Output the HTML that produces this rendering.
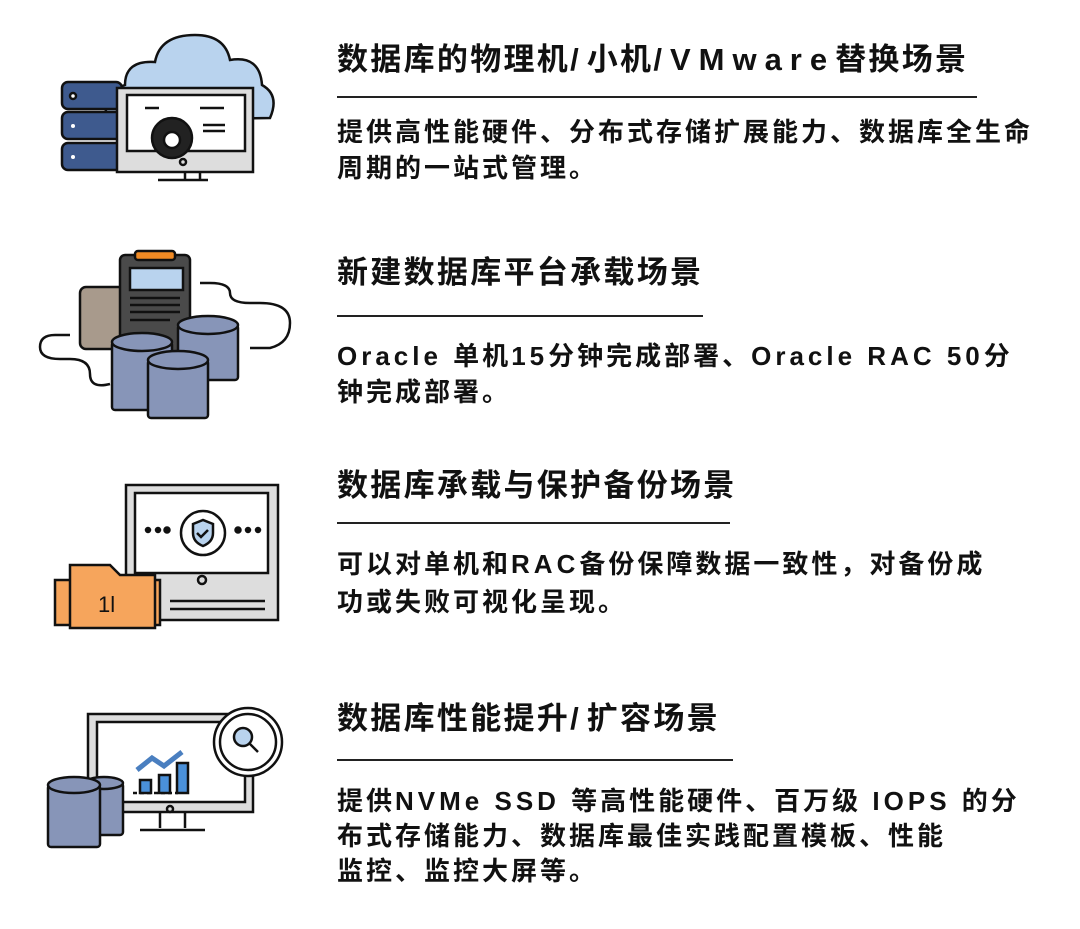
<!DOCTYPE html>
<html><head><meta charset="utf-8"><style>
body{margin:0;width:1080px;height:929px;background:#fff;position:relative;overflow:hidden;font-family:"Liberation Sans","Noto Sans CJK SC",sans-serif;color:#111;}
.t{position:absolute;left:337px;font-size:31px;font-weight:bold;letter-spacing:2.3px;white-space:nowrap;line-height:34px}
.b{position:absolute;left:337px;font-size:26px;font-weight:bold;letter-spacing:3px;line-height:35px;white-space:nowrap}
.t i{font-style:normal;letter-spacing:8px}
.b i{font-style:normal;letter-spacing:4px}
.l{position:absolute;left:337px;height:2px;background:#222}
svg{position:absolute;left:0;top:0}
</style></head><body>
<svg width="320" height="929" viewBox="0 0 320 929" stroke="#111" stroke-width="2.5" fill="none">
<path d="M110 120 Q95 95 125 85 Q125 60 155 62 Q160 35 195 35 Q225 35 230 60 Q260 55 262 85 Q280 95 270 118 Z" fill="#b9d3ee"/>
<rect x="62" y="82" width="60" height="27" rx="6" fill="#3e5a8e"/>
<rect x="62" y="112" width="60" height="27" rx="6" fill="#3e5a8e"/>
<rect x="62" y="143" width="60" height="27" rx="6" fill="#3e5a8e"/>
<circle cx="73" cy="96" r="3" fill="#fff"/><circle cx="73" cy="126" r="2" fill="#fff" stroke="none"/><circle cx="73" cy="157" r="2" fill="#fff" stroke="none"/>
<rect x="117" y="88" width="136" height="84" fill="#ddd"/>
<rect x="127" y="95" width="118" height="56" fill="#fff"/>
<circle cx="172" cy="138" r="20" fill="#222"/><circle cx="172" cy="140" r="8" fill="#fff"/>
<path d="M145 108h14M200 108h24M203 125h22M203 131h22" />
<path d="M185 172v8M200 172v8M158 180h50"/>
<circle cx="183" cy="162" r="3"/>
<rect x="80" y="287" width="45" height="62" rx="6" fill="#a89a8c"/>
<rect x="120" y="255" width="70" height="100" rx="5" fill="#4a4a4a"/>
<rect x="135" y="251" width="40" height="9" rx="3" fill="#f08a24"/>
<rect x="130" y="268" width="53" height="22" fill="#b9d3ee"/>
<path d="M130 298h50M130 305h50M130 312h50M130 320h40" stroke="#111"/>
<path d="M200 283h10q20 0 20 10t20 10h10q30 0 30 20t-20 25h-20M70 335h-15q-15 0-15 12t20 12h10q20 0 20 15t20 10"/>
<g fill="#8795b8">
<rect x="178" y="325" width="60" height="55" rx="3"/><ellipse cx="208" cy="325" rx="30" ry="9"/>
<rect x="112" y="342" width="60" height="68" rx="3"/><ellipse cx="142" cy="342" rx="30" ry="9"/>
<rect x="148" y="360" width="60" height="58" rx="3"/><ellipse cx="178" cy="360" rx="30" ry="9"/>
</g>
<rect x="126" y="485" width="152" height="135" fill="#ddd"/>
<rect x="135" y="493" width="133" height="80" fill="#fff"/>
<circle cx="203" cy="533" r="22" fill="#fff"/><path d="M193 524l10-4 10 4v9q0 9-10 13-10-4-10-13z" fill="#b9d3ee"/>
<path d="M197 533l4 4 7-7"/>
<circle cx="202" cy="580" r="4"/>
<path d="M170 601h95M170 609h95"/>
<circle cx="148" cy="530" r="2" fill="#111"/><circle cx="158" cy="530" r="2" fill="#111"/><circle cx="167" cy="530" r="2.5" fill="#111"/>
<circle cx="238" cy="530" r="2.5" fill="#111"/><circle cx="248" cy="530" r="2" fill="#111"/><circle cx="258" cy="530" r="2" fill="#111"/>
<rect x="55" y="580" width="105" height="45" fill="#f6a55c"/>
<path d="M70 565h40l10 10h35v53H70z" fill="#f6a55c"/>
<text x="98" y="612" font-size="22" fill="#111" stroke="none" font-family="Liberation Sans">1l</text>
<rect x="88" y="714" width="165" height="98" fill="#ddd"/>
<rect x="97" y="722" width="148" height="80" fill="#fff"/>
<path d="M160 812v16M185 812v16M140 830h65"/><circle cx="170" cy="809" r="3"/>
<circle cx="248" cy="742" r="34" fill="#fff"/><circle cx="248" cy="742" r="28"/>
<circle cx="243" cy="737" r="9" fill="#b9d3ee"/><path d="M250 744l8 8"/>
<path d="M133 793h45" stroke-dasharray="4 3"/>
<rect x="140" y="780" width="11" height="13" fill="#4a90d9"/><rect x="159" y="775" width="11" height="18" fill="#4a90d9"/><rect x="177" y="763" width="11" height="30" fill="#4a90d9"/>
<path d="M137 770l15-12 12 8 18-14" stroke="#4a7fc0" stroke-width="5"/>
<g fill="#8795b8"><rect x="85" y="783" width="38" height="52" rx="3"/><ellipse cx="104" cy="783" rx="19" ry="6"/>
<rect x="48" y="785" width="52" height="62" rx="3"/><ellipse cx="74" cy="785" rx="26" ry="8"/></g>
</svg>
<div class="t" style="top:43px">数据库的物理机<i>/</i>小机<i>/VMware</i>替换场景</div>
<div class="l" style="top:96px;width:640px"></div>
<div class="b" style="top:115px">提供高性能硬件、分布式存储扩展能力、数据库全生命</div>
<div class="b" style="top:151px">周期的一站式管理。</div>
<div class="t" style="top:256px">新建数据库平台承载场景</div>
<div class="l" style="top:315px;width:366px"></div>
<div class="b" style="top:339px"><i>Oracle </i>单机<i>15</i>分钟完成部署、<i>Oracle RAC 50</i>分</div>
<div class="b" style="top:375px">钟完成部署。</div>
<div class="t" style="top:469px">数据库承载与保护备份场景</div>
<div class="l" style="top:522px;width:393px"></div>
<div class="b" style="top:547px">可以对单机和<i>RAC</i>备份保障数据一致性，对备份成</div>
<div class="b" style="top:585px">功或失败可视化呈现。</div>
<div class="t" style="top:702px">数据库性能提升<i>/</i>扩容场景</div>
<div class="l" style="top:759px;width:396px"></div>
<div class="b" style="top:784px">提供<i>NVMe SSD </i>等高性能硬件、百万级<i> IOPS </i>的分</div>
<div class="b" style="top:819px">布式存储能力、数据库最佳实践配置模板、性能</div>
<div class="b" style="top:854px">监控、监控大屏等。</div>
</body></html>
